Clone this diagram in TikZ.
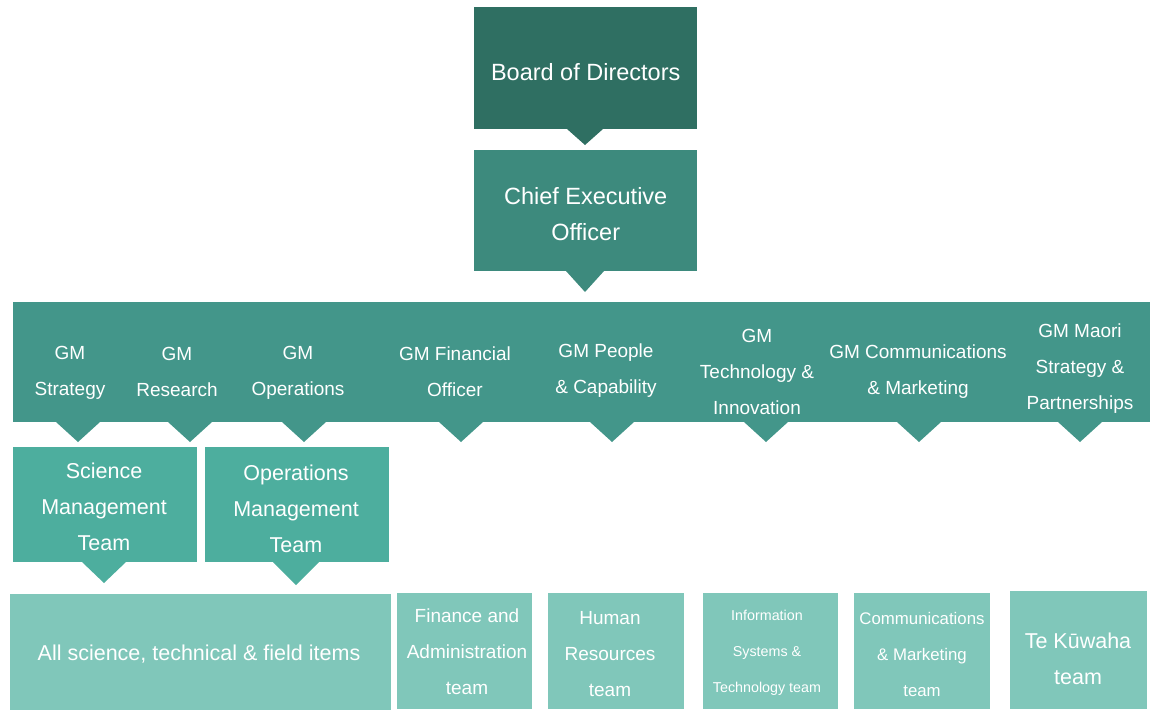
\documentclass[tikz,border=0pt]{standalone}
\usepackage{fontspec}
\setmainfont{Liberation Sans}
\definecolor{cboard}{HTML}{2F6F62}
\definecolor{cceo}{HTML}{3D8A7D}
\definecolor{cband}{HTML}{43968A}
\definecolor{cmgmt}{HTML}{4DAE9E}
\definecolor{cteam}{HTML}{80C7BA}
\newcommand\droptri[5]{% color, base-left, base-right, apex
  \fill[#1] (#2) -- (#3) -- (#4) -- cycle;}
\tikzset{
  box/.style={rectangle, inner sep=0pt, anchor=north west, text=white, align=center},
  lbl/.style={inner sep=0pt, text=white, align=center},
  fA/.style={font=\fontsize{23.5}{36}\selectfont},
  fB/.style={font=\fontsize{19}{36}\selectfont},
  fC/.style={font=\fontsize{21.5}{36}\selectfont},
}
\begin{document}
\begin{tikzpicture}[x=1pt,y=-1pt]
\useasboundingbox (0,0) rectangle (1150,709);
% top boxes
\node[box, fill=cboard, minimum width=223pt, minimum height=122pt] (board) at (474,7) {};
\node[lbl, fA] at ([yshift=-4pt]board.center) {Board of Directors};
\node[box, fill=cceo, minimum width=223pt, minimum height=121pt] (ceo) at (474,150) {};
\node[lbl, fA] at ([yshift=-3pt]ceo.center) {Chief Executive\\Officer};
% band
\node[box, fill=cband, minimum width=1137pt, minimum height=120pt] (band) at (13,302) {};
% management boxes
\node[box, fill=cmgmt, minimum width=184pt, minimum height=115pt] (smt) at (13,447) {};
\node[box, fill=cmgmt, minimum width=184pt, minimum height=115pt] (omt) at (205,447) {};
\node[lbl, fC] at (104,507) {Science\\Management\\Team};
\node[lbl, fC] at (296,509) {Operations\\Management\\Team};
% team boxes
\node[box, fill=cteam, minimum width=381pt, minimum height=116pt] (allsci) at (10,594) {};
\node[box, fill=cteam, minimum width=135pt, minimum height=116pt] (fin) at (397,593) {};
\node[box, fill=cteam, minimum width=136pt, minimum height=116pt] (hr) at (548,593) {};
\node[box, fill=cteam, minimum width=135pt, minimum height=116pt] (ist) at (703,593) {};
\node[box, fill=cteam, minimum width=136pt, minimum height=116pt] (comm) at (854,593) {};
\node[box, fill=cteam, minimum width=137pt, minimum height=118pt] (tek) at (1010,591) {};
\node[lbl, fC] at (199,654) {All science, technical \& field items};
\node[lbl, fB] at (467,652) {Finance and\\Administration\\team};
\node[lbl, fB] at (610,654) {Human\\Resources\\team};
\node[lbl, font=\fontsize{14.3}{36}\selectfont] at (767,653) {Information\\Systems \&\\Technology team};
\node[lbl, font=\fontsize{16.8}{36}\selectfont] at (922,654) {Communications\\\& Marketing\\team};
\node[lbl, fC] at (1078,659) {Te Kūwaha\\team};
% GM labels
\node[lbl, fB] (gs) at (70,373) {GM\\Strategy};
\node[lbl, fB] (gr) at (177,372) {GM\\Research};
\node[lbl, fB] (go) at (298,373) {GM\\Operations};
\node[lbl, fB] (gf) at (455,372) {GM Financial\\Officer};
\node[lbl, fB] (gp) at (606,371) {GM People\\\& Capability};
\node[lbl, fB] (gt) at (757,372) {GM\\Technology \&\\Innovation};
\node[lbl, fB] (gc) at (918,372) {GM Communications\\\& Marketing};
\node[lbl, fB] (gmo) at (1080,369) {GM Maori\\Strategy \&\\Partnerships};
% pointers
\droptri{cboard}{567,129}{603,129}{585,145}{}
\droptri{cceo}{566,271}{604,271}{585,292}{}
\foreach \px in {78,190,304,461,612,766,919,1080}{
  \fill[cband] (\px-22,422) -- (\px+22,422) -- (\px,442) -- cycle;
}
\droptri{cmgmt}{82,562}{126,562}{104,583}{}
\droptri{cmgmt}{273,562}{319,562}{296,585}{}
\end{tikzpicture}
\end{document}
